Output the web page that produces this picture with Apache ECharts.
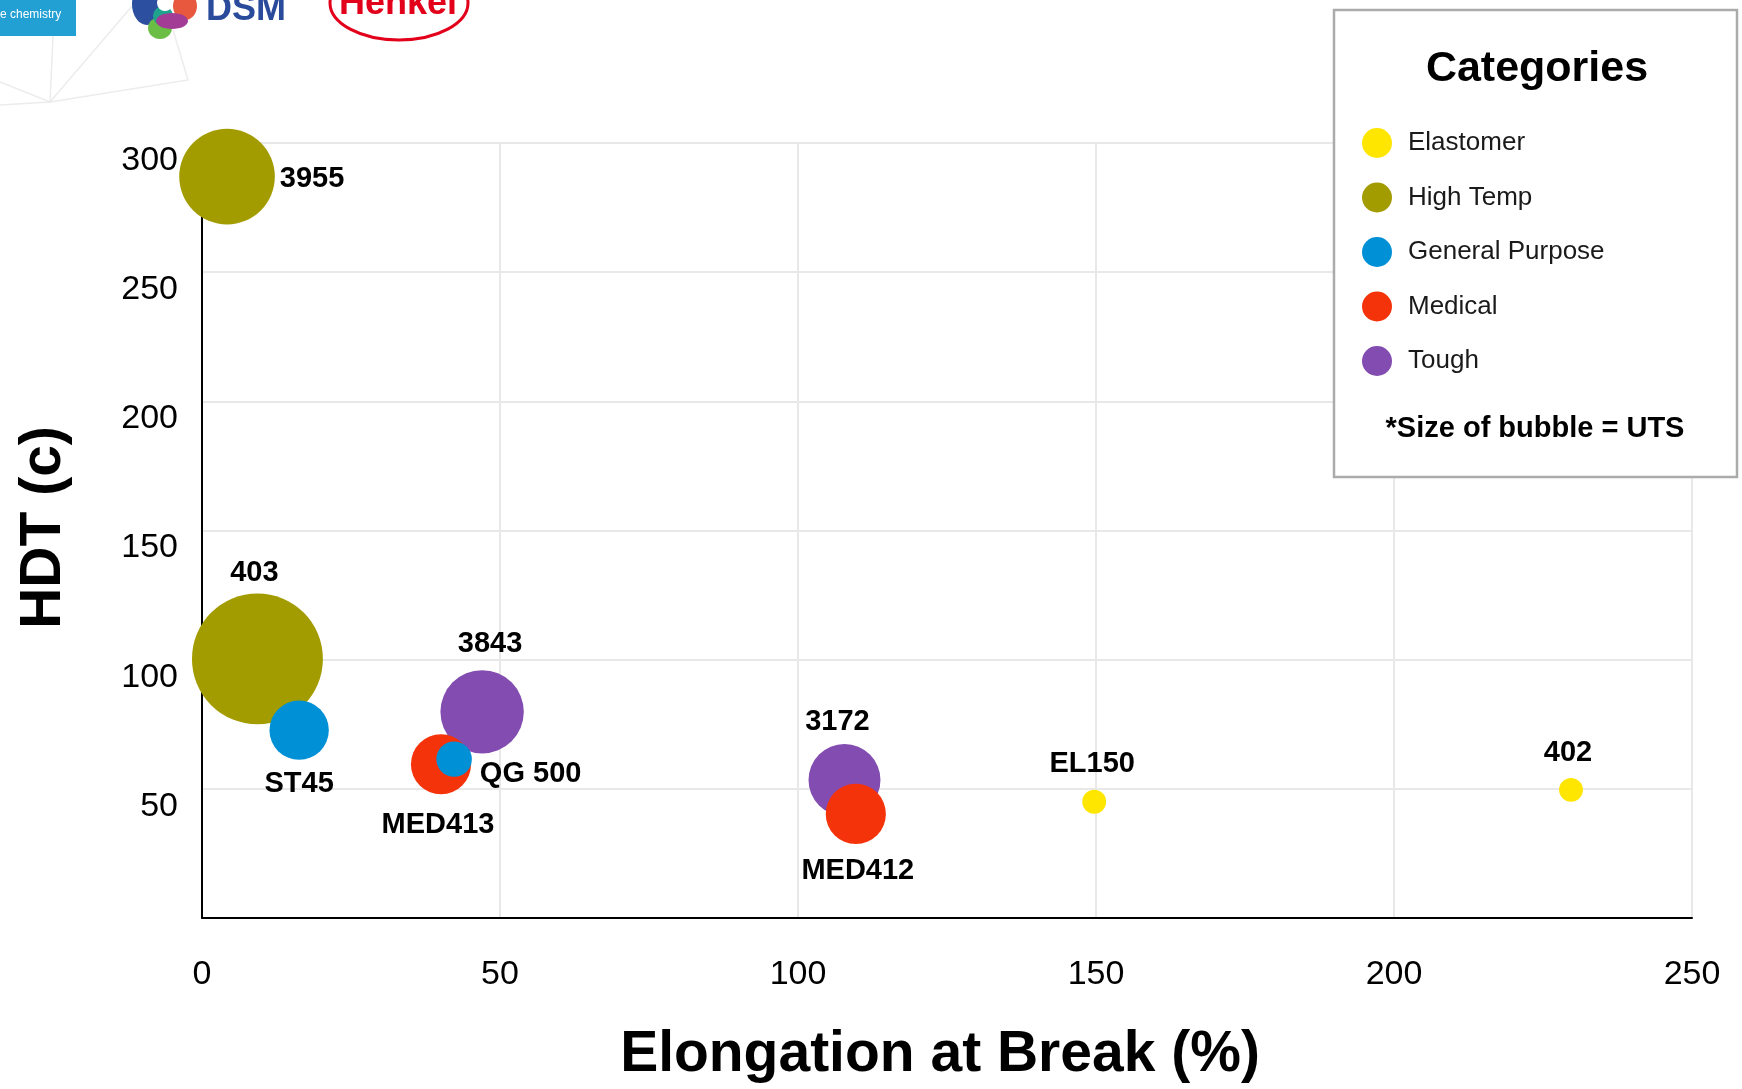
<!DOCTYPE html>
<html>
<head>
<meta charset="utf-8">
<script src="https://cdn.jsdelivr.net/npm/echarts@6/dist/echarts.min.js"></script>
<style>
html,body{margin:0;padding:0;background:#fff;}
#c{width:1742px;height:1089px;}
</style>
</head>
<body>
<div id="c"></div>
<script>
// ---- data ----
const resinNames = ['3955', '403', 'ST45', '3843', 'MED413', 'QG 500', '3172', 'MED412', 'EL150', '402'];
const resinCategory = ['High Temp', 'High Temp', 'General Purpose', 'Tough', 'Medical', 'General Purpose', 'Tough', 'Medical', 'Elastomer', 'Elastomer'];
const elongation = [4.2, 9.3, 16.3, 47.0, 40.1, 42.3, 107.8, 109.7, 149.7, 229.7];
const hdt = [287, 100.3, 72.7, 79.8, 59.5, 61.5, 53.4, 40.3, 45.0, 49.6];
const uts = [48, 90, 18.5, 36.5, 19, 6.6, 27.2, 19, 3, 3];
const legendOrder = ['Elastomer', 'High Temp', 'General Purpose', 'Medical', 'Tough'];
const drawOrder = ['High Temp', 'Tough', 'Medical', 'General Purpose', 'Elastomer'];
const xTicks = [0, 50, 100, 150, 200, 250];
const yTicks = [0, 50, 100, 150, 200, 250, 300];

// ---- styles ----
const colors = {
  'Elastomer': '#FFE600',
  'High Temp': '#A39C00',
  'General Purpose': '#0090D6',
  'Medical': '#F5330A',
  'Tough': '#824CB0'
};
const labelPlacement = {
  '3955': {position: 'right', distance: 5, offset: [0, 2]},
  '403': {position: 'top', distance: 6, offset: [-3, 0]},
  'ST45': {position: 'bottom', distance: 10, offset: [0, 0]},
  '3843': {position: 'top', distance: 12, offset: [8, 0]},
  'MED413': {position: 'bottom', distance: 16, offset: [-3, 0]},
  'QG 500': {position: 'right', distance: 8, offset: [0, 15]},
  '3172': {position: 'top', distance: 8, offset: [-7, 0]},
  'MED412': {position: 'bottom', distance: 13, offset: [2, 0]},
  'EL150': {position: 'top', distance: 11, offset: [-2, 0]},
  '402': {position: 'top', distance: 10, offset: [-3, 0]}
};
const FONT = "'Liberation Sans', Arial, Helvetica, sans-serif";

const series = drawOrder.map(function (cat) {
  const data = [];
  for (let i = 0; i < resinNames.length; i++) {
    if (resinCategory[i] !== cat) continue;
    const lp = labelPlacement[resinNames[i]];
    data.push({
      name: resinNames[i],
      value: [elongation[i], hdt[i], uts[i]],
      label: {position: lp.position, distance: lp.distance, offset: lp.offset}
    });
  }
  return {
    name: cat,
    type: 'scatter',
    data: data,
    symbol: 'circle',
    symbolSize: function (v) { return 13.8 * Math.sqrt(v[2]); },
    itemStyle: {color: colors[cat], opacity: 1},
    label: {
      show: true,
      formatter: function (p) { return p.name; },
      color: '#000',
      fontFamily: FONT,
      fontWeight: 'bold',
      fontSize: 29
    },
    emphasis: {disabled: true}
  };
});

const chart = echarts.init(document.getElementById('c'), null, {renderer: 'canvas'});
chart.setOption({
  animation: false,
  backgroundColor: '#fff',
  textStyle: {fontFamily: FONT},
  grid: {left: 202, right: 50, top: 143, bottom: 167, containLabel: false},
  xAxis: {
    type: 'value',
    min: xTicks[0], max: xTicks[xTicks.length - 1], interval: xTicks[1] - xTicks[0],
    axisLine: {show: true, onZero: false, lineStyle: {color: '#000', width: 2}},
    axisTick: {show: false},
    splitLine: {show: true, lineStyle: {color: '#e8e8e8', width: 2}},
    axisLabel: {color: '#000', fontSize: 34, margin: 40, fontFamily: FONT},
    name: 'Elongation at Break (%)',
    nameLocation: 'middle',
    nameGap: 109,
    nameTextStyle: {color: '#000', fontSize: 57, fontWeight: 'bold', fontFamily: FONT, padding: [0, 14, 0, 0]}
  },
  yAxis: {
    type: 'value',
    min: yTicks[0], max: yTicks[yTicks.length - 1], interval: yTicks[1] - yTicks[0],
    axisLine: {show: true, onZero: false, lineStyle: {color: '#000', width: 2}},
    axisTick: {show: false},
    splitLine: {show: true, lineStyle: {color: '#e8e8e8', width: 2}},
    axisLabel: {color: '#000', fontSize: 34, margin: 24, fontFamily: FONT, showMinLabel: false, verticalAlign: 'top', lineHeight: 35},
    name: 'HDT (c)',
    nameLocation: 'middle',
    nameGap: 129,
    nameRotate: 90,
    nameTextStyle: {color: '#000', fontSize: 57, fontWeight: 'bold', fontFamily: FONT, padding: [0, 0, 0, 6]}
  },
  legend: {
    data: legendOrder,
    orient: 'vertical',
    left: 1362,
    top: 128,
    padding: 0,
    itemWidth: 30,
    itemHeight: 30,
    itemGap: 24.5,
    icon: 'circle',
    selectedMode: false,
    z: 10,
    textStyle: {color: '#1a1a1a', fontSize: 26, fontFamily: FONT, padding: [0, 0, 0, 11]}
  },
  graphic: [
    // faint background lines
    {type: 'polyline', z: -1, silent: true, shape: {points: [[0, 82], [50, 102], [53, 36]]}, style: {stroke: '#ececec', lineWidth: 1.5, fill: null}},
    {type: 'polyline', z: -1, silent: true, shape: {points: [[0, 105], [50, 102], [133, 5]]}, style: {stroke: '#ececec', lineWidth: 1.5, fill: null}},
    {type: 'polyline', z: -1, silent: true, shape: {points: [[50, 102], [188, 80], [173, 30]]}, style: {stroke: '#ececec', lineWidth: 1.5, fill: null}},
    // BASF box
    {type: 'rect', z: 1, silent: true, shape: {x: 0, y: 0, width: 76, height: 36}, style: {fill: '#22A0D4'}},
    {type: 'text', z: 2, silent: true, style: {text: 'BASF', x: 2, y: 6, textVerticalAlign: 'bottom', fill: '#fff', font: 'bold 26px ' + FONT}},
    {type: 'text', z: 2, silent: true, style: {text: 'e chemistry', x: 0, y: 15, textVerticalAlign: 'middle', fill: '#fff', font: '12px ' + FONT}},
    // DSM swirl
    {type: 'ellipse', z: 1, silent: true, shape: {cx: 147, cy: 4, rx: 15, ry: 21}, style: {fill: '#2D4FA0'}},
    {type: 'ellipse', z: 1, silent: true, shape: {cx: 185, cy: 6, rx: 12, ry: 14}, style: {fill: '#E8583E'}},
    {type: 'ellipse', z: 1, silent: true, shape: {cx: 160, cy: 28, rx: 12, ry: 11}, style: {fill: '#6BBE45'}},
    {type: 'circle', z: 1, silent: true, shape: {cx: 163, cy: 16, r: 10}, style: {fill: '#1FA38D'}},
    {type: 'ellipse', z: 1, silent: true, shape: {cx: 172, cy: 21, rx: 16, ry: 8}, style: {fill: '#A23C95'}},
    {type: 'circle', z: 1, silent: true, shape: {cx: 165, cy: 3, r: 8}, style: {fill: '#fff'}},
    {type: 'text', z: 2, silent: true, style: {text: 'DSM', x: 206, y: 10, textVerticalAlign: 'middle', fill: '#2A4B9B', font: 'bold 36px ' + FONT}},
    // Henkel
    {type: 'ellipse', z: 1, silent: true, shape: {cx: 399, cy: 3, rx: 69, ry: 37}, style: {fill: null, stroke: '#E2001A', lineWidth: 3}},
    {type: 'text', z: 2, silent: true, style: {text: 'Henkel', x: 398, y: 4, textAlign: 'center', textVerticalAlign: 'middle', fill: '#E2001A', font: 'bold 36px ' + FONT}},
    // legend box
    {type: 'rect', z: 5, silent: true, shape: {x: 1334, y: 10, width: 403, height: 467}, style: {fill: '#fff', stroke: '#ababab', lineWidth: 2.5}},
    {type: 'text', z: 6, silent: true, style: {text: 'Categories', x: 1537, y: 69, textAlign: 'center', textVerticalAlign: 'middle', fill: '#000', font: 'bold 43px ' + FONT}},
    {type: 'text', z: 6, silent: true, style: {text: '*Size of bubble = UTS', x: 1535, y: 429, textAlign: 'center', textVerticalAlign: 'middle', fill: '#000', font: 'bold 29px ' + FONT}}
  ],
  series: series
});
</script>
</body>
</html>
